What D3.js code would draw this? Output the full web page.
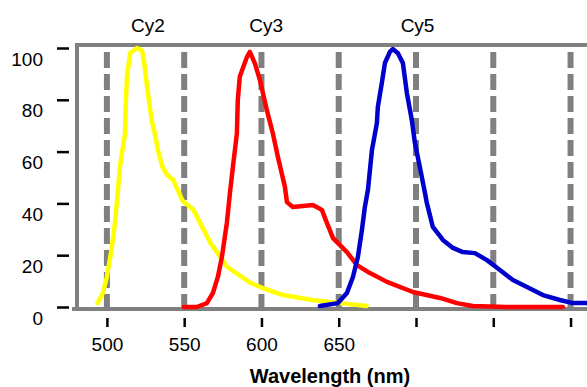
<!DOCTYPE html>
<html>
<head>
<meta charset="utf-8">
<script src="https://cdn.jsdelivr.net/npm/d3@7"></script>
<style>
  body { margin: 0; background: #fff; }
  text { font-family: "Liberation Sans", Arial, sans-serif; }
</style>
</head>
<body>
<div id="chart"></div>
<script>

// Chart size
const width = 587;
const height = 387;
const margin = {left:76, right:1, top:45, bottom:78};

// Dye names and where their labels sit (nm)
const dyeNames = ["Cy2", "Cy3", "Cy5"];
const dyeLabelWl = [526.5, 603, 701];
const dyeColors = ["#ffff00", "#ff0000", "#0000cc"];

// Cy2 emission spectrum
const cy2Wl = [494, 497.4, 500, 503.2, 505.2, 507, 508.4, 511.7, 512.3, 513, 515, 519.4, 522.7, 524, 526,
  529, 531, 533, 536, 539, 543, 549, 556, 567, 578, 593, 601, 614, 633, 651, 668];
const cy2Val = [1.5, 5.4, 11.6, 23, 32.4, 44, 54, 67, 80, 89, 98, 100, 99, 95, 85,
  72, 67, 60.6, 54, 51, 49, 41, 37.5, 24.7, 15.4, 9.3, 7.3, 4.6, 2.7, 1.5, 0.4];

// Cy3 emission spectrum
const cy3Wl = [549.8, 558.2, 564.7, 568.6, 571.8, 574.4, 577.6, 579.6, 581.5, 584.1, 584.7, 586, 590.6, 592.5,
  595.8, 599, 603.5, 607.4, 610.6, 615.2, 616.5, 620.3, 633.3, 639.1, 642.4, 646.3, 655.3, 661.8,
  670.2, 681.2, 698, 715.5, 726.5, 736.8, 758.8, 795];
const cy3Val = [0, 0, 1.5, 5.4, 11.6, 19.3, 32.4, 44, 54, 67, 80, 89, 96.5, 98.5,
  94, 87.6, 76, 67, 58, 46.3, 40.5, 38.6, 39.4, 37.5, 32.4, 26.6, 21.2, 16.2,
  13.1, 9.7, 5.8, 3.5, 1.5, 0.4, 0, 0];

// Cy5 emission spectrum
const cy5Wl = [637.8, 649.5, 655.3, 659.2, 662.4, 665, 666.9, 668.9, 671.5, 674.7, 675.3, 677.9, 679.9, 683.1,
  685, 688.3, 691.5, 694.1, 697.3, 699.3, 702.5, 705.8, 707, 710.9, 717.4, 723.9, 730.3, 738.1,
  745.9, 754.3, 762.7, 771.8, 782.1, 793.1, 801.5, 810.6];
const cy5Val = [0.4, 1.5, 5.4, 11.6, 19.3, 29.7, 38.6, 45.2, 60.6, 71, 77.2, 86.5, 94.2, 98.5,
  99.6, 98, 94.2, 82.6, 72.2, 63.3, 54, 44, 40.2, 30.9, 25.9, 22.8, 21.2, 20.8,
  18.1, 14.3, 10.4, 7.7, 4.6, 2.7, 1.5, 1.5];

// Axis ticks
const xTicks = [500, 550, 600, 650, 700, 750, 800];
const xTickLabels = ["500", "550", "600", "650", "", "", ""];
const yTicks = [0, 20, 40, 60, 80, 100];

const series = [
  {name: dyeNames[0], wl: cy2Wl, val: cy2Val},
  {name: dyeNames[1], wl: cy3Wl, val: cy3Val},
  {name: dyeNames[2], wl: cy5Wl, val: cy5Val}
];

const svg = d3.select("#chart")
  .append("svg")
  .attr("width", width)
  .attr("height", height);

// scales
const xScale = d3.scaleLinear()
  .domain([480, 810])
  .range([margin.left, width - margin.right]);

const yScale = d3.scaleLinear()
  .domain([0, 100])
  .range([307, 48]);

const plotBottom = 309;

// dashed grid lines
svg.append("g")
  .selectAll("line")
  .data(xTicks)
  .enter()
  .append("line")
    .attr("x1", d => xScale(d))
    .attr("x2", d => xScale(d))
    .attr("y1", 52)
    .attr("y2", plotBottom)
    .attr("stroke", "#808080")
    .attr("stroke-width", 6)
    .attr("stroke-dasharray", "16,6");

// frame (top, left, bottom)
const frame = svg.append("g")
  .attr("stroke", "#808080")
  .attr("stroke-width", 4);
frame.append("line")
  .attr("x1", margin.left + 1).attr("x2", width)
  .attr("y1", margin.top).attr("y2", margin.top);
frame.append("line")
  .attr("x1", margin.left + 1).attr("x2", margin.left + 1)
  .attr("y1", margin.top - 2).attr("y2", plotBottom + 2);
frame.append("line")
  .attr("x1", 72).attr("x2", width)
  .attr("y1", plotBottom).attr("y2", plotBottom);

// spectra
const line = d3.line()
  .x(d => xScale(d[0]))
  .y(d => yScale(d[1]));

svg.append("g")
  .selectAll("path")
  .data(series)
  .enter()
  .append("path")
    .attr("d", s => line(s.wl.map((w, i) => [w, s.val[i]])))
    .attr("fill", "none")
    .attr("stroke", (s, i) => dyeColors[i])
    .attr("stroke-width", 4.5)
    .attr("stroke-linejoin", "round")
    .attr("stroke-linecap", "round");

// y axis (ticks sit left of the frame)
const yAxis = svg.append("g")
  .attr("transform", "translate(69,0)")
  .call(d3.axisLeft(yScale).tickValues(yTicks).tickSize(12).tickPadding(14));
yAxis.select(".domain").remove();
yAxis.selectAll("line").attr("stroke", "#000").attr("stroke-width", 2.5);
yAxis.selectAll("text")
  .attr("font-size", "19px")
  .attr("fill", "#000")
  .attr("dy", "0.9em");

// x axis
const xAxis = svg.append("g")
  .attr("transform", "translate(0,318)")
  .call(d3.axisBottom(xScale).tickValues(xTicks).tickSize(9).tickPadding(11)
          .tickFormat((d, i) => xTickLabels[i]));
xAxis.select(".domain").remove();
xAxis.selectAll("line").attr("stroke", "#000").attr("stroke-width", 2.5);
xAxis.selectAll("text")
  .attr("font-size", "19px")
  .attr("fill", "#000");

// axis title
svg.append("text")
  .attr("x", 330)
  .attr("y", 383)
  .attr("text-anchor", "middle")
  .attr("font-size", "20px")
  .attr("font-weight", "bold")
  .text("Wavelength (nm)");

// dye labels along the top
svg.append("g")
  .selectAll("text")
  .data(dyeNames)
  .enter()
  .append("text")
    .attr("x", (d, i) => xScale(dyeLabelWl[i]))
    .attr("y", 32)
    .attr("text-anchor", "middle")
    .attr("font-size", "19px")
    .text(d => d);

</script>
</body>
</html>
